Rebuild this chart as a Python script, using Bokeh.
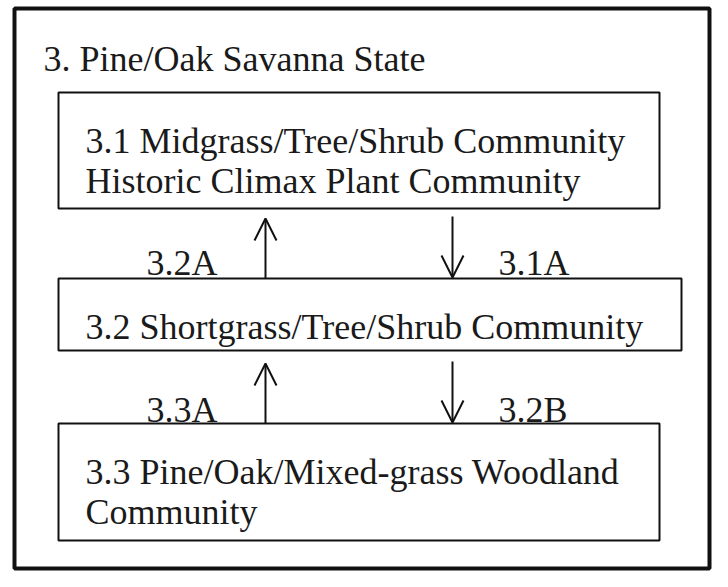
from bokeh.plotting import figure
from bokeh.models import Range1d, ColumnDataSource, Arrow, OpenHead
from bokeh.core.properties import value
from bokeh.embed import file_html
from bokeh.resources import INLINE

# Diagram content
state_title = ["3. Pine/Oak Savanna State"]
box_left = [58, 58, 58]
box_right = [659, 681, 659]
box_top = [92, 278, 423]
box_bottom = [208, 350, 540]

box_lines = [
    "3.1 Midgrass/Tree/Shrub Community",
    "Historic Climax Plant Community",
    "3.2 Shortgrass/Tree/Shrub Community",
    "3.3 Pine/Oak/Mixed-grass Woodland",
    "Community",
]
line_x = [85, 85, 85, 85, 85]
line_y = [140, 180, 326, 471, 511]

trans_labels = ["3.2A", "3.1A", "3.3A", "3.2B"]
trans_x = [146, 498, 146, 498]
trans_y = [262, 262, 409, 409]

arrow_x = [265, 452, 265, 452]
arrow_y0 = [278, 216, 423, 361]
arrow_y1 = [218, 277, 363, 422]

FONT = value("Liberation Serif")

p = figure(width=712, height=571, output_backend="svg", toolbar_location=None,
           x_range=Range1d(0, 712), y_range=Range1d(571, 0),
           min_border=0, background_fill_color="white", border_fill_color="white")
p.axis.visible = False
p.grid.visible = False
p.outline_line_color = None

# outer state box
p.quad(left=[14], right=[709], top=[8], bottom=[568], fill_color=None,
       line_color="#111111", line_width=4)

# community boxes
p.quad(left=box_left, right=box_right, top=box_top, bottom=box_bottom,
       fill_color=None, line_color="#111111", line_width=2)

p.text(x=[43], y=[58], text=state_title, text_font=FONT, text_font_size="36px",
       text_baseline="alphabetic", text_align="left", text_color="#1a1a1a")

p.text(x=line_x, y=line_y, text=box_lines, text_font=FONT, text_font_size="36px",
       text_baseline="alphabetic", text_align="left", text_color="#1a1a1a")

p.text(x=trans_x, y=trans_y, text=trans_labels, text_font=FONT, text_font_size="36px",
       text_baseline="alphabetic", text_align="left", text_color="#1a1a1a")

src = ColumnDataSource(dict(x0=arrow_x, y0=arrow_y0, x1=arrow_x, y1=arrow_y1))
p.add_layout(Arrow(end=OpenHead(size=22, line_width=2, line_color="#111111"),
                   x_start="x0", y_start="y0", x_end="x1", y_end="y1",
                   source=src, line_width=2, line_color="#111111"))

open("out.html", "w").write(file_html(p, INLINE))
